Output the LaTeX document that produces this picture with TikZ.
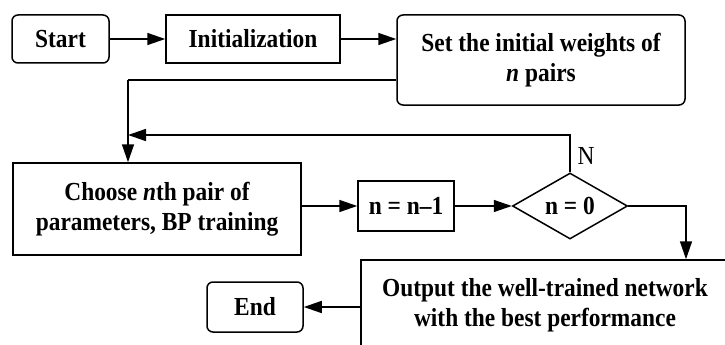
\documentclass[tikz,border=0pt]{standalone}
\usepackage{fontspec}
\setmainfont[FakeStretch=0.9]{Liberation Serif}
\usetikzlibrary{shapes.geometric,arrows.meta}

\begin{document}
\begin{tikzpicture}[x=1pt,y=-1pt,
  box/.style={draw,line width=1.5pt,inner sep=0pt,align=center,
    font=\fontsize{26}{30}\selectfont\bfseries},
  term/.style={box,rounded corners=6pt},
  decision/.style={box,diamond,aspect=1.75},
  flow/.style={line width=1.5pt,-{Triangle[length=18pt,width=12pt]}},
  line/.style={line width=1.5pt}]
\useasboundingbox (0,0) rectangle (725,345);
\clip (0,0) rectangle (725,345);
%upper row
\node[term,minimum width=97,minimum height=48] (start) at (60.5,39) {Start};
\node[box,minimum width=174,minimum height=48] (init) at (253,39) {Initialization};
\node[term,minimum width=288,minimum height=90] (weights) at (541,60) {Set the initial weights of\\\textit{n} pairs};
%training loop
\node[box,minimum width=288,minimum height=92] (choose) at (157,209) {Choose \textit{n}th pair of\\parameters, BP training};
\node[box,minimum width=96,minimum height=50] (dec) at (406,206) {n = n--1};
\node[decision,minimum width=115,minimum height=66] (zero) at (570,206) {n = 0};
\node[font=\fontsize{26}{30}\selectfont] (nlabel) at (586,156) {N};
%result
\node[box,minimum width=368,minimum height=90] (output) at (545,305) {Output the well-trained network\\with the best performance};
\node[term,minimum width=96,minimum height=50] (end) at (255,307) {End};
%arrows
\draw[flow] (start) -- (init);
\draw[flow] (init) -- (init -| weights.west);
\coordinate (split) at (128,80);
\draw[line] (weights.west |- split) -- (split);
\draw[flow] (split) -- (split |- choose.north);
\coordinate (back) at (570,135);
\draw[flow] (zero.north) -- (back) -- (back -| split);
\draw[flow] (choose.east |- dec.west) -- (dec.west);
\draw[flow] (dec) -- (zero);
\coordinate (turn) at (686,206);
\draw[flow] (zero.east) -- (turn) -- (turn |- output.north);
\draw[flow] (output.west |- end) -- (end);
\end{tikzpicture}
\end{document}
